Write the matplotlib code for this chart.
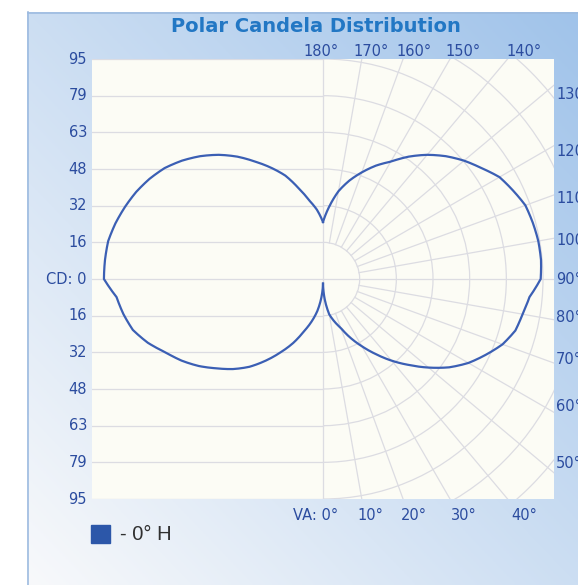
import numpy as np
import matplotlib.pyplot as plt
from matplotlib.patches import Arc, Rectangle
from matplotlib import transforms

# vertical angle from nadir (deg), candela in the 0 deg plane (right) and 180 deg plane (left)
va = np.arange(0, 181, 5)
cd_0 = [2, 9, 15.5, 19, 22.5, 28, 33.5, 39.5, 46, 52.5, 59.5, 66.5, 72.5, 77.5,
        82.5, 86, 87.5, 89.5, 94, 94.5, 94.4, 93.8, 93, 90.5, 88, 83.5, 79.5,
        75, 70, 64.5, 58.5, 54, 49, 44, 38.5, 31.5, 24.6]
cd_180 = [2, 8, 14, 19, 24, 30.5, 36.5, 43, 49.5, 55, 60, 65.5, 70.5, 75,
          80.5, 85, 87.5, 89.5, 94.6, 94.5, 94.2, 92.8, 91, 89, 86.5, 83.5, 79.5,
          75, 70, 64.5, 58.5, 53, 47.5, 40.5, 34.5, 30, 24.6]

cd_max = 95
cd_labels = ['95', '79', '63', '48', '32', '16']
top_angles = [180, 170, 160, 150, 140]
right_angles = [130, 120, 110, 100, 90, 80, 70, 60, 50]
bottom_angles = [0, 10, 20, 30, 40]

W, H = 578, 585
fig = plt.figure(figsize=(W / 100, H / 100), dpi=100)

# panel background, light at bottom-left, blue at top-right
bg = fig.add_axes([27 / W, 0, 1 - 27 / W, 1 - 12 / H])
u, v = np.meshgrid(np.linspace(0, 1, 200), np.linspace(0, 1, 200))
t = ((u + v) / 2)[..., None]
c0 = np.array([248, 249, 251]) / 255
c1 = np.array([160, 195, 234]) / 255
bg.imshow(c0 + (c1 - c0) * t, origin='lower', extent=[0, 1, 0, 1], aspect='auto')
bg.set_axis_off()
fig.add_artist(plt.Line2D([27.5 / W, 27.5 / W], [0, 1 - 12 / H], color='#9dbbe0', lw=1.2))
fig.add_artist(plt.Line2D([27.5 / W, 1], [1 - 12.5 / H, 1 - 12.5 / H], color='#9dbbe0', lw=1.2))

fig.text(316 / W, 1 - 27 / H, 'Polar Candela Distribution', ha='center', va='center',
         fontsize=14, fontweight='bold', color='#2277c4')

# plot area (cartesian frame for the grid)
ax = fig.add_axes([92 / W, 86 / H, 462 / W, 440 / H])
ax.set_facecolor('#fcfcf5')
xmax = cd_max * 231 / 220
ax.set_xlim(-xmax, xmax)
ax.set_ylim(-cd_max, cd_max)
ax.set_xticks([])
ax.set_yticks([])
for s in ax.spines.values():
    s.set_visible(False)

grid_c = '#dcdce2'
step = cd_max / 6
for k in range(-6, 7):
    ax.plot([-xmax, 0], [k * step, k * step], color=grid_c, lw=0.9, zorder=1)
ax.plot([0, 0], [-cd_max, cd_max], color=grid_c, lw=0.9, zorder=1)
for k in range(1, 10):
    ax.add_patch(Arc((0, 0), 2 * k * step, 2 * k * step, theta1=-90, theta2=90,
                     color=grid_c, lw=0.9, zorder=1))
for a in range(10, 180, 10):
    r0 = 0 if a == 90 else step
    ar = np.radians(a)
    ax.plot([r0 * np.sin(ar), 200 * np.sin(ar)], [-r0 * np.cos(ar), -200 * np.cos(ar)],
            color=grid_c, lw=0.9, zorder=1)

# curves on a transparent polar axes sharing the same centre and scale
pax = fig.add_axes([(323 - 220) / W, 86 / H, 440 / W, 440 / H], projection='polar')
pax.set_theta_zero_location('S')
pax.set_theta_direction(1)
pax.set_rlim(0, cd_max)
pax.set_axis_off()
pax.patch.set_alpha(0)
line_c = '#3b5fb4'
lines = pax.plot(np.radians(va), cd_0, color=line_c, lw=1.6, clip_on=False)
lines += pax.plot(-np.radians(va), cd_180, color=line_c, lw=1.6, clip_on=False)
for ln in lines:
    ln.get_path()._interpolation_steps = 12
    ln.set_solid_joinstyle('round')

# labels
lab_c = '#2b4c9f'
fs = 10.5


def off(dx, dy):
    return transforms.offset_copy(ax.transData, fig=fig, x=dx, y=dy, units='dots')


yl = cd_labels + ['CD: 0'] + cd_labels[::-1]
ys = [cd_max - i * step for i in range(13)]
for lab, yv in zip(yl, ys):
    ax.text(-xmax, yv, lab, ha='right', va='center', fontsize=fs, color=lab_c,
            transform=off(-5, 0), clip_on=False)

for a in top_angles:
    xv = xmax * np.tan(np.radians(180 - a))
    dx = -2 if a == 180 else 7
    ax.text(xv, cd_max, f'{a}°', ha='center', va='center', fontsize=fs, color=lab_c,
            transform=off(dx, 8), clip_on=False)

for a in bottom_angles:
    xv = xmax * np.tan(np.radians(a))
    if a == 0:
        ax.text(xv, -cd_max, f'VA: {a}°', ha='right', va='center', fontsize=fs, color=lab_c,
                transform=off(15, -16), clip_on=False)
    else:
        ax.text(xv, -cd_max, f'{a}°', ha='center', va='center', fontsize=fs, color=lab_c,
                transform=off(7, -16), clip_on=False)

for a in right_angles:
    ar = np.radians(a)
    yv = -cd_max * np.cos(ar) / np.sin(ar)
    ax.text(xmax, yv, f'{a}°', ha='left', va='center', fontsize=fs, color=lab_c,
            transform=off(2, 0), clip_on=False)

# legend
fig.add_artist(Rectangle((91 / W, 1 - 543 / H), 18.5 / W, 18 / H, color='#2c57a9',
                         transform=fig.transFigure))
fig.text(120 / W, 1 - 534 / H, '- 0° H', ha='left', va='center', fontsize=14.5,
         family='Liberation Sans', color='#303030')

fig.savefig('out.png', dpi=100)
